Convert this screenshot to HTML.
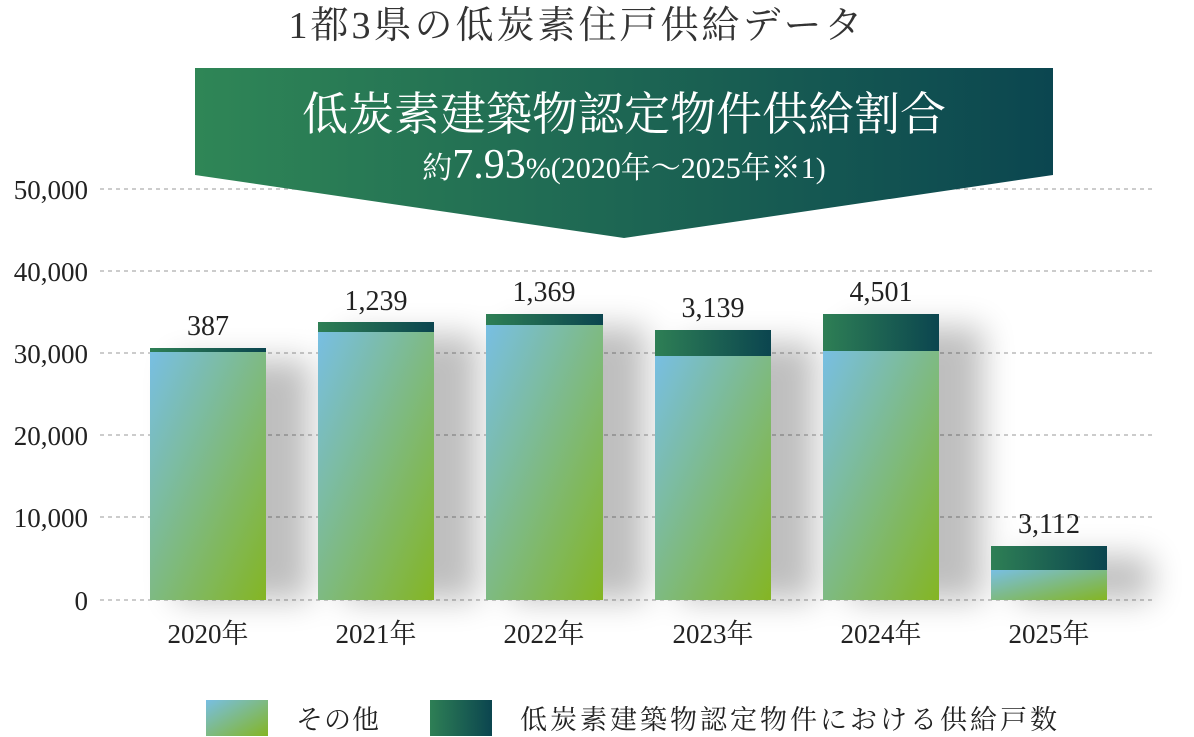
<!DOCTYPE html>
<html><head><meta charset="utf-8"><style>
body{margin:0;background:#fff;width:1194px;height:737px;overflow:hidden;font-family:"Liberation Serif","Noto Serif CJK SC",serif;}
</style></head><body>
<svg width="1194" height="737" xmlns="http://www.w3.org/2000/svg" style="position:absolute;left:0;top:0">
<defs>
<linearGradient id="lg" x1="0" y1="0" x2="1" y2="1"><stop offset="0" stop-color="#78bfe3"/><stop offset="1" stop-color="#84b523"/></linearGradient>
<linearGradient id="dg" x1="0" y1="0" x2="1" y2="0"><stop offset="0" stop-color="#2e7f55"/><stop offset="1" stop-color="#0b454f"/></linearGradient>
<linearGradient id="bg" x1="0" y1="0" x2="1" y2="0"><stop offset="0" stop-color="#2f8656"/><stop offset="1" stop-color="#0b4650"/></linearGradient>
<filter id="bl" x="-50%" y="-50%" width="200%" height="200%"><feGaussianBlur stdDeviation="16"/></filter>
</defs>
<g font-family="Liberation Serif, Noto Serif CJK SC, serif" fill="#222">
<text x="577" y="38" font-size="38" text-anchor="middle" fill="#333" letter-spacing="3">1都3県の低炭素住戸供給データ</text>
<g stroke="#bbb" stroke-width="1.5" stroke-dasharray="4,4">
<line x1="100" y1="189" x2="1155" y2="189"/><line x1="100" y1="271" x2="1155" y2="271"/>
<line x1="100" y1="353" x2="1155" y2="353"/><line x1="100" y1="435" x2="1155" y2="435"/>
<line x1="100" y1="517" x2="1155" y2="517"/><line x1="100" y1="600" x2="1155" y2="600"/>
</g>
<g font-size="27" text-anchor="end">
<text x="88" y="199">50,000</text><text x="88" y="281">40,000</text><text x="88" y="363">30,000</text>
<text x="88" y="445">20,000</text><text x="88" y="527">10,000</text><text x="88" y="610">0</text>
</g>
<g fill="#000" opacity="0.25" filter="url(#bl)">
<rect x="175" y="360" width="135" height="240"/><rect x="343" y="335" width="135" height="265"/>
<rect x="511" y="327" width="135" height="273"/><rect x="680" y="343" width="135" height="257"/>
<rect x="848" y="327" width="135" height="273"/><rect x="1016" y="556" width="135" height="44"/>
</g>
<rect x="150" y="352" width="116" height="248" fill="url(#lg)"/><rect x="150" y="348" width="116" height="4" fill="url(#dg)"/>
<rect x="318" y="332" width="116" height="268" fill="url(#lg)"/><rect x="318" y="322" width="116" height="10" fill="url(#dg)"/>
<rect x="486" y="325" width="117" height="275" fill="url(#lg)"/><rect x="486" y="314" width="117" height="11" fill="url(#dg)"/>
<rect x="655" y="356" width="116" height="244" fill="url(#lg)"/><rect x="655" y="330" width="116" height="26" fill="url(#dg)"/>
<rect x="823" y="351" width="116" height="249" fill="url(#lg)"/><rect x="823" y="314" width="116" height="37" fill="url(#dg)"/>
<rect x="991" y="570" width="116" height="30" fill="url(#lg)"/><rect x="991" y="546" width="116" height="24" fill="url(#dg)"/>
<g font-size="28" text-anchor="middle">
<text x="208" y="335">387</text><text x="376" y="310">1,239</text><text x="544" y="301">1,369</text>
<text x="713" y="317">3,139</text><text x="881" y="301">4,501</text><text x="1049" y="533">3,112</text>
</g>
<g font-size="27" text-anchor="middle">
<text x="208" y="643">2020年</text><text x="376" y="643">2021年</text><text x="544" y="643">2022年</text>
<text x="713" y="643">2023年</text><text x="881" y="643">2024年</text><text x="1049" y="643">2025年</text>
</g>
<polygon points="195,68 1053,68 1053,175 624,238 195,175" fill="url(#bg)"/>
<text x="624" y="130" font-size="46" text-anchor="middle" fill="#fff" letter-spacing="0">低炭素建築物認定物件供給割合</text>
<text x="624" y="178" font-size="30" text-anchor="middle" fill="#fff">約<tspan font-size="42">7.93</tspan>%(2020年～2025年※1)</text>
<rect x="206" y="700" width="62" height="36" fill="url(#lg)"/>
<text x="296" y="729" font-size="27" letter-spacing="1">その他</text>
<rect x="430" y="700" width="62" height="36" fill="url(#dg)"/>
<text x="520" y="729" font-size="27" letter-spacing="3">低炭素建築物認定物件における供給戸数</text>
</g>
</svg>
</body></html>
